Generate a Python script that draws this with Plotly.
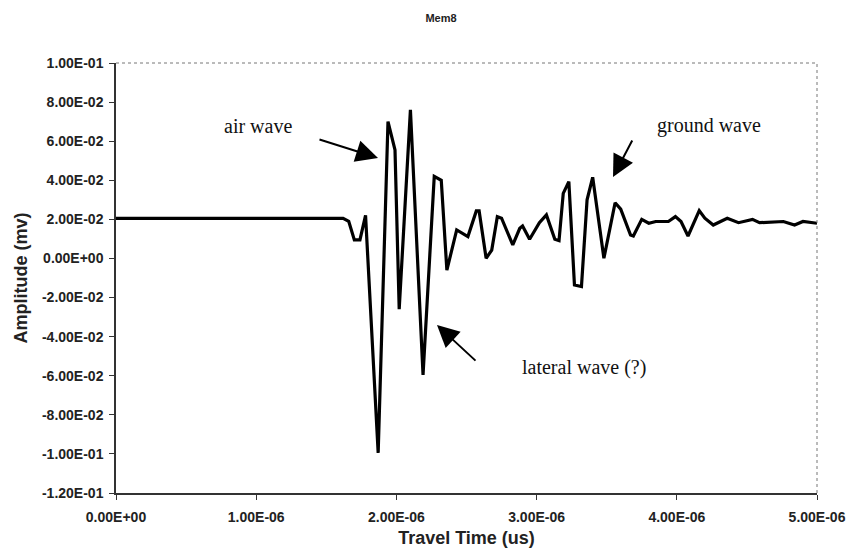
import plotly.graph_objects as go

# Travel time in microseconds (converted to seconds below) and amplitude
time_us = [0.0, 1.62, 1.66, 1.70, 1.74, 1.78, 1.87, 1.94, 1.99, 2.02, 2.10, 2.19,
           2.27, 2.32, 2.36, 2.43, 2.51, 2.57, 2.59, 2.64, 2.68, 2.72, 2.75, 2.83,
           2.88, 2.90, 2.95, 3.02, 3.07, 3.13, 3.16, 3.19, 3.23, 3.27, 3.32, 3.36,
           3.40, 3.48, 3.56, 3.60, 3.67, 3.69, 3.75, 3.80, 3.85, 3.94, 3.99, 4.03,
           4.08, 4.16, 4.20, 4.26, 4.36, 4.44, 4.54, 4.59, 4.76, 4.84, 4.90, 5.00]
amplitude = [0.0205, 0.0205, 0.019, 0.0095, 0.0095, 0.022, -0.0995, 0.070, 0.0555,
             -0.026, 0.076, -0.0596, 0.042, 0.040, -0.006, 0.0146, 0.0112, 0.0243,
             0.0243, 0.0001, 0.0043, 0.0214, 0.0206, 0.0069, 0.0154, 0.0166, 0.0098,
             0.0183, 0.0223, 0.0098, 0.0091, 0.0333, 0.0393, -0.0136, -0.0144, 0.030,
             0.0415, 0.0001, 0.0285, 0.0252, 0.012, 0.0115, 0.020, 0.018, 0.0189,
             0.0189, 0.0214, 0.0189, 0.0115, 0.0245, 0.0206, 0.0171, 0.0206, 0.0183,
             0.020, 0.0183, 0.0189, 0.0171, 0.0189, 0.018]

x_ticks = [0, 1e-6, 2e-6, 3e-6, 4e-6, 5e-6]
y_ticks = [-0.12, -0.10, -0.08, -0.06, -0.04, -0.02, 0.0, 0.02, 0.04, 0.06, 0.08, 0.10]

time_s = [t * 1e-6 for t in time_us]

def sci(v):
    s = "%.2E" % v
    if s.startswith("-0.00"):
        s = s[1:]
    return s

fig = go.Figure()
fig.add_trace(go.Scatter(x=time_s, y=amplitude, mode="lines",
                         line=dict(color="black", width=3.2), showlegend=False))

L, R, T, B = 116, 32, 63, 63
W, H = 849, 556
pw, ph = W - L - R, H - T - B

def px(xp):
    return (xp - L) / pw

def py(yp):
    return (H - B - yp) / ph

sans = "Liberation Sans, Arial"
tick_font = dict(family=sans, size=14, color="#222")
title_font = dict(family=sans, size=18, color="#222")

fig.update_layout(
    width=W, height=H, margin=dict(l=L, r=R, t=T, b=B),
    paper_bgcolor="white", plot_bgcolor="white",
    title=dict(text="<b>Mem8</b>", x=441 / W, xanchor="center", y=1 - 18 / H, yanchor="middle",
               font=dict(family=sans, size=11, color="#222")),
    xaxis=dict(range=[0, 5e-6], tickvals=x_ticks, ticktext=["<b>%s</b>" % sci(v) for v in x_ticks],
               showline=True, linecolor="#333", linewidth=1.5, ticks="outside", ticklen=5,
               tickcolor="#333", showgrid=False, zeroline=False, ticklabelstandoff=5,
               tickfont=tick_font, automargin=False,
               title=dict(text="<b>Travel Time (us)</b>", standoff=8, font=title_font)),
    yaxis=dict(range=[-0.12, 0.10], tickvals=y_ticks, ticktext=["<b>%s</b>" % sci(v) for v in y_ticks],
               showline=True, linecolor="#333", linewidth=1.5, ticks="outside", ticklen=5,
               tickcolor="#333", showgrid=False, zeroline=False, ticklabelstandoff=3,
               tickfont=tick_font, automargin=False,
               title=dict(text="<b>Amplitude (mv)</b>", standoff=10, font=title_font)),
)

# dotted plot-area border on top and right
fig.add_shape(type="line", xref="paper", yref="paper", x0=0, x1=1, y0=1, y1=1,
              line=dict(color="#777", width=1, dash="dot"))
fig.add_shape(type="line", xref="paper", yref="paper", x0=1, x1=1, y0=0, y1=1,
              line=dict(color="#777", width=1, dash="dot"))

serif = dict(family="Liberation Serif, Times New Roman", size=20, color="#111")

labels = [("air wave", 258, 126), ("ground wave", 709, 126), ("lateral wave (?)", 584, 368)]
for text, xp, yp in labels:
    fig.add_annotation(text=text, xref="paper", yref="paper", x=px(xp), y=py(yp),
                       showarrow=False, font=serif, xanchor="center", yanchor="middle")

arrows = [((318, 139), (378, 158)), ((633, 139), (613, 177)), ((477, 362), (437, 325))]
for (tx, ty), (hx, hy) in arrows:
    fig.add_annotation(text="", xref="paper", yref="paper", x=px(hx), y=py(hy),
                       ax=tx - hx, ay=ty - hy, axref="pixel", ayref="pixel",
                       showarrow=True, arrowhead=2, arrowsize=2.2, arrowwidth=2,
                       arrowcolor="black", standoff=0)

fig.write_html("out.html")
